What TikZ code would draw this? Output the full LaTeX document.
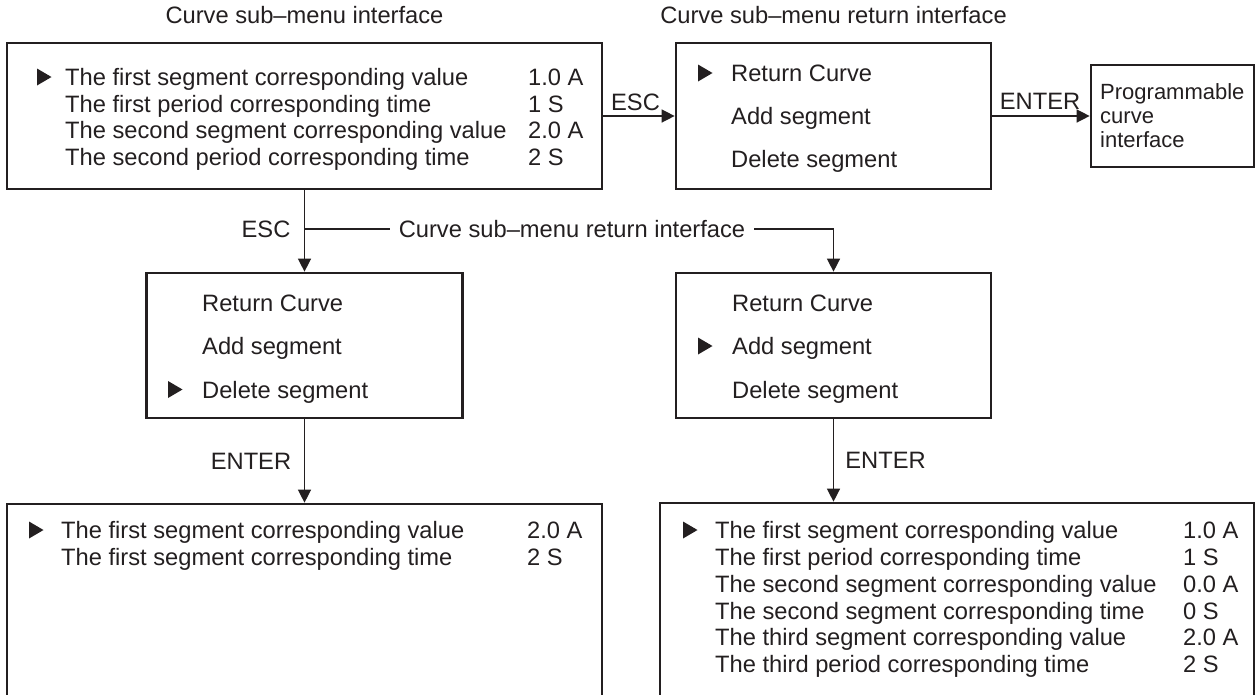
\documentclass[tikz,border=0pt]{standalone}
\usepackage{fontspec}
\setmainfont{Liberation Sans}
\usetikzlibrary{arrows.meta}
\definecolor{ink}{HTML}{231F20}

\begin{document}
\begin{tikzpicture}[x=1pt,y=-1pt,
  every node/.style={text=ink, font=\fontsize{23.7}{24.5}\selectfont},
  panel/.style={draw=ink, line width=2.7pt, rectangle, inner sep=0pt},
  flow/.style={draw=ink, line width=1.4pt, -{Triangle[length=13pt,width=13pt]}},
  link/.style={draw=ink, line width=1.4pt},
  item/.style={anchor=base west, inner sep=0pt, yshift=-8.5pt},
  tag/.style={inner sep=0pt},
  cursor/.pic={\fill[ink] (0,-8.5) -- (14.5,0) -- (0,8.5) -- cycle;}
]
\useasboundingbox (0,0) rectangle (1255,694);
\clip (0,0) rectangle (1255,694);

% titles
\node[tag] (t1) at (304.5,15) {Curve sub–menu interface};
\node[tag] (t2) at (833.5,15) {Curve sub–menu return interface};

% panels
\node[panel, minimum width=595pt, minimum height=146pt] (A) at (304.5,116) {};
\node[panel, minimum width=315pt, minimum height=146pt] (B) at (833.5,116) {};
\node[panel, minimum width=163pt, minimum height=102pt] (C) at (1172.5,116) {};
\node[panel, minimum width=316pt, minimum height=145pt] (D) at (304.5,345.5) {};
\node[panel, minimum width=315pt, minimum height=145pt] (E) at (833.5,345.5) {};
\node[panel, minimum width=595pt, minimum height=236pt] (F) at (304.5,622) {};
\node[panel, minimum width=594pt, minimum height=237pt] (G) at (957,621.5) {};

% curve sub-menu
\pic at (37,77) {cursor};
\node[item] (a1) at (65,77)    {The first segment corresponding value};
\node[item] (a2) at (65,103.5) {The first period corresponding time};
\node[item] (a3) at (65,130)   {The second segment corresponding value};
\node[item] (a4) at (65,156.5) {The second period corresponding time};
\node[item] (av1) at (528,77)    {1.0 A};
\node[item] (av2) at (528,103.5) {1 S};
\node[item] (av3) at (528,130)   {2.0 A};
\node[item] (av4) at (528,156.5) {2 S};

% return menu, first entry selected
\pic at (698,73) {cursor};
\node[item] (b1) at (731,73)  {Return Curve};
\node[item] (b2) at (731,116) {Add segment};
\node[item] (b3) at (731,159) {Delete segment};

% programmable curve
\node[tag, anchor=west, align=left, font=\fontsize{22}{24}\selectfont] (c1) at (1100,116) {Programmable\\curve\\interface};

% return menu, delete selected
\pic at (168,389.5) {cursor};
\node[item] (d1) at (202,302.5) {Return Curve};
\node[item] (d2) at (202,346)   {Add segment};
\node[item] (d3) at (202,389.5) {Delete segment};

% return menu, add selected
\pic at (698,346) {cursor};
\node[item] (e1) at (732,302.5) {Return Curve};
\node[item] (e2) at (732,346)   {Add segment};
\node[item] (e3) at (732,389.5) {Delete segment};

% after deleting a segment
\pic at (29,530) {cursor};
\node[item] (f1) at (61,530) {The first segment corresponding value};
\node[item] (f2) at (61,557) {The first segment corresponding time};
\node[item] (fv1) at (527,530) {2.0 A};
\node[item] (fv2) at (527,557) {2 S};

% after adding a segment
\pic at (683,530) {cursor};
\node[item] (g1) at (715,530) {The first segment corresponding value};
\node[item] (g2) at (715,557) {The first period corresponding time};
\node[item] (g3) at (715,584) {The second segment corresponding value};
\node[item] (g4) at (715,611) {The second segment corresponding time};
\node[item] (g5) at (715,637) {The third segment corresponding value};
\node[item] (g6) at (715,664) {The third period corresponding time};
\node[item] (gv1) at (1183,530) {1.0 A};
\node[item] (gv2) at (1183,557) {1 S};
\node[item] (gv3) at (1183,584) {0.0 A};
\node[item] (gv4) at (1183,611) {0 S};
\node[item] (gv5) at (1183,637) {2.0 A};
\node[item] (gv6) at (1183,664) {2 S};

% connectors
\draw[flow] (A.east) -- (B.west);
\node[tag] (escR) at (635.5,102) {ESC};
\draw[flow] (B.east) -- (C.west);
\node[tag] (entR) at (1040,101) {ENTER};

\draw[flow] (A.south) -- (D.north);
\node[tag] (escD) at (266,229) {ESC};
\node[tag, inner xsep=9pt] (ret) at (572,229) {Curve sub–menu return interface};
\coordinate (fork) at (A.south |- ret.west);
\draw[link] (fork) -- (ret.west);
\draw[flow] (ret.east) -| (E.north);

\draw[flow] (D.south) -- (F.north);
\node[tag] (entD) at (251,461) {ENTER};
\draw[flow] (E.south) -- (E.south |- G.north);
\node[tag] (entE) at (885.5,460) {ENTER};
\end{tikzpicture}
\end{document}
